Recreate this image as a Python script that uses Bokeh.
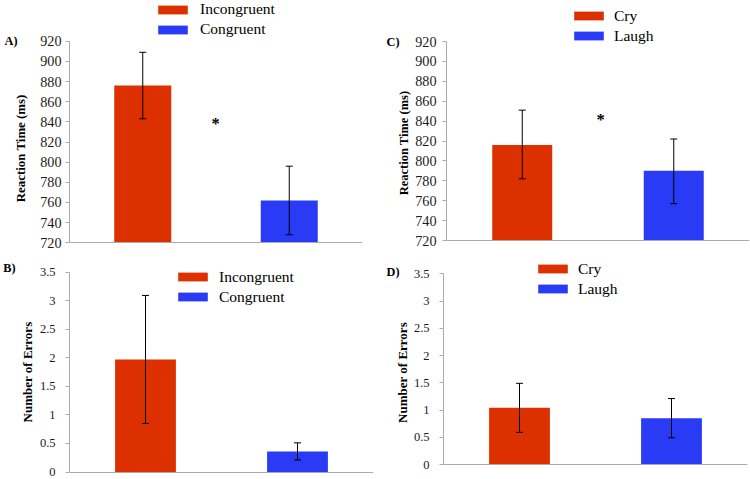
from bokeh.plotting import figure
from bokeh.models import (ColumnDataSource, FactorRange, Range1d, FixedTicker,
                          CustomJSTickFormatter, Whisker, TeeHead, Legend,
                          LegendItem, Label, LinearAxis)
from bokeh.layouts import column, row
from bokeh.embed import file_html
from bokeh.resources import INLINE

# ---------------- data ----------------
congruency_labels = ["Incongruent", "Congruent"]
emotion_labels = ["Cry", "Laugh"]

rt_congruency_means = [876, 762]
rt_congruency_lower = [843, 728]
rt_congruency_upper = [909, 796]

rt_emotion_means = [816, 790]
rt_emotion_lower = [782, 757]
rt_emotion_upper = [851, 822]

err_congruency_means = [1.97, 0.36]
err_congruency_lower = [0.85, 0.21]
err_congruency_upper = [3.09, 0.51]

err_emotion_means = [1.04, 0.85]
err_emotion_lower = [0.59, 0.49]
err_emotion_upper = [1.49, 1.21]

rt_ticks = [720, 740, 760, 780, 800, 820, 840, 860, 880, 900, 920]
err_ticks = [0, 0.5, 1, 1.5, 2, 2.5, 3, 3.5]

bar_colors = ["#dd3000", "#2a3bf6"]

SERIF = "Liberation Serif"
AXIS_GRAY = "#aaaaaa"
ITEM_H = 18      # legend item height
ITEM_GAP = 2     # legend spacing
GLYPH_H = 11


def make_panel(labels, means, lower, upper, ticks, ylabel, letter, g, star=None):
    W, H = g["W"], g["H"]
    mbl, mbr, mbb = g["borders"]
    bottom = H - mbb                      # frame bottom; frame top = 0
    px_hi, px_lo = g["tick_px"]           # pixel rows of top / bottom tick
    lo, hi = ticks[0], ticks[-1]
    upp = (hi - lo) / (px_lo - px_hi)     # data units per pixel

    def yval(px):
        return lo + (px_lo - px) * upp

    src = ColumnDataSource(dict(cat=labels, val=means, lower=lower,
                                upper=upper, color=bar_colors))
    p = figure(width=W, height=H, x_range=FactorRange(factors=labels),
               y_range=Range1d(yval(bottom), yval(0)), title=None,
               output_backend="svg", toolbar_location=None,
               min_border_left=mbl, min_border_right=mbr,
               min_border_top=0, min_border_bottom=mbb)
    p.outline_line_color = None
    p.xgrid.visible = False
    p.ygrid.visible = False
    p.background_fill_color = "white"
    p.border_fill_color = "white"

    r = p.vbar(x="cat", top="val", bottom=lo, width=g["bar_w"],
               fill_color="color", line_color=None, source=src)

    wh = Whisker(source=src, base="cat", upper="upper", lower="lower",
                 dimension="height", line_color="black", line_width=1,
                 upper_head=TeeHead(size=7, line_color="black", line_width=1),
                 lower_head=TeeHead(size=7, line_color="black", line_width=1))
    wh.level = "overlay"
    p.add_layout(wh)

    # main y axis (numbers)
    yax = p.yaxis[0]
    yax.ticker = FixedTicker(ticks=ticks)
    yax.bounds = (lo, hi)
    yax.formatter = CustomJSTickFormatter(code="return tick.toString()")
    yax.axis_line_color = AXIS_GRAY
    yax.major_tick_line_color = AXIS_GRAY
    yax.major_tick_out = 4
    yax.major_tick_in = 0
    yax.minor_tick_line_color = None
    yax.major_label_standoff = g["tick_standoff"]
    yax.major_label_text_font = SERIF
    yax.major_label_text_font_size = g["tick_font"]
    yax.major_label_text_color = "#1a1a1a"

    # axis title, drawn as a vertical label of an outer axis at the label centre
    tax = LinearAxis(ticker=FixedTicker(ticks=[yval(g["label_center_px"])]),
                     formatter=CustomJSTickFormatter(code='return "%s"' % ylabel),
                     axis_line_color=None, major_tick_line_color=None,
                     minor_tick_line_color=None, major_tick_out=0,
                     major_tick_in=0, major_label_standoff=g["label_standoff"],
                     major_label_orientation="vertical",
                     major_label_text_font=SERIF,
                     major_label_text_font_style="bold",
                     major_label_text_font_size=g["label_font"],
                     major_label_text_color="black")
    p.add_layout(tax, "left")

    # panel letter, drawn as the label of an outermost axis
    lax = LinearAxis(ticker=FixedTicker(ticks=[yval(g["letter_center_px"])]),
                     formatter=CustomJSTickFormatter(code='return "%s"' % letter),
                     axis_line_color=None, major_tick_line_color=None,
                     minor_tick_line_color=None, major_tick_out=0,
                     major_tick_in=0, major_label_standoff=g["letter_standoff"],
                     major_label_text_font=SERIF,
                     major_label_text_font_style="bold",
                     major_label_text_font_size="12.3px",
                     major_label_text_color="black")
    p.add_layout(lax, "left")

    # x axis: plain base line at the bottom of the value range
    xax = p.xaxis[0]
    xax.ticker = FixedTicker(ticks=[])
    xax.fixed_location = lo
    xax.axis_line_color = AXIS_GRAY
    xax.major_tick_line_color = None
    xax.minor_tick_line_color = None
    xax.major_label_standoff = 0
    xax.major_tick_out = 0
    xax.major_tick_in = 0

    # legend (glyph is centred vertically in its item row)
    gx, gy = g["legend_glyph_tl"]
    item_top = gy - (ITEM_H - GLYPH_H) / 2
    h = 2 * ITEM_H + ITEM_GAP
    leg = Legend(items=[LegendItem(label=labels[0], renderers=[r], index=0),
                        LegendItem(label=labels[1], renderers=[r], index=1)],
                 location=(gx - 4 - mbl, bottom - item_top - h),
                 orientation="vertical", glyph_width=37, glyph_height=GLYPH_H,
                 label_height=ITEM_H, label_standoff=g["legend_standoff"],
                 spacing=ITEM_GAP, padding=0, margin=0,
                 border_line_color=None, background_fill_alpha=0,
                 label_text_font=SERIF, label_text_font_size="15.5px",
                 label_text_color="black")
    p.add_layout(leg)

    if star is not None:
        p.add_layout(Label(x=star[0], y=star[1], text="*", text_font=SERIF,
                           text_font_style="bold", text_font_size="16.5px",
                           text_baseline="middle", text_align="center",
                           text_color="black"))
    return p


geomA = dict(W=375, H=250, borders=(69, 13, 7), tick_px=(40.7, 242.3),
             bar_w=0.389, tick_font="14.2px", tick_standoff=4,
             label_font="12.9px", label_standoff=9, label_center_px=147.8,
             letter_standoff=-6, letter_center_px=40.9,
             legend_glyph_tl=(158, 3.5), legend_standoff=9)
geomC = dict(W=375, H=250, borders=(71, 1, 7), tick_px=(41.0, 240.0),
             bar_w=0.396, tick_font="14.2px", tick_standoff=6,
             label_font="12.5px", label_standoff=2, label_center_px=142.5,
             letter_standoff=-6, letter_center_px=41.7,
             legend_glyph_tl=(199, 10), legend_standoff=7)
geomB = dict(W=375, H=229, borders=(69, 2, 5), tick_px=(21.5, 221.5),
             bar_w=0.40, tick_font="12.5px", tick_standoff=10,
             label_font="13px", label_standoff=2, label_center_px=121.5,
             letter_standoff=1, letter_center_px=17.0,
             legend_glyph_tl=(178, 21), legend_standoff=8)
geomD = dict(W=375, H=229, borders=(68, 3, 5), tick_px=(23.3, 214.0),
             bar_w=0.40, tick_font="12.5px", tick_standoff=10,
             label_font="13px", label_standoff=1, label_center_px=122.0,
             letter_standoff=-8, letter_center_px=21.0,
             legend_glyph_tl=(163, 13), legend_standoff=7)

pA = make_panel(congruency_labels, rt_congruency_means, rt_congruency_lower,
                rt_congruency_upper, rt_ticks, "Reaction Time (ms)", "A)",
                geomA, star=(0.997, 838.7))
pC = make_panel(emotion_labels, rt_emotion_means, rt_emotion_lower,
                rt_emotion_upper, rt_ticks, "Reaction Time (ms)", "C)",
                geomC, star=(1.018, 841.4))
pB = make_panel(congruency_labels, err_congruency_means, err_congruency_lower,
                err_congruency_upper, err_ticks, "Number of Errors", "B)", geomB)
pD = make_panel(emotion_labels, err_emotion_means, err_emotion_lower,
                err_emotion_upper, err_ticks, "Number of Errors", "D)", geomD)

layout = column(row(pA, pC), row(pB, pD))
open("out.html", "w").write(file_html(layout, INLINE))
